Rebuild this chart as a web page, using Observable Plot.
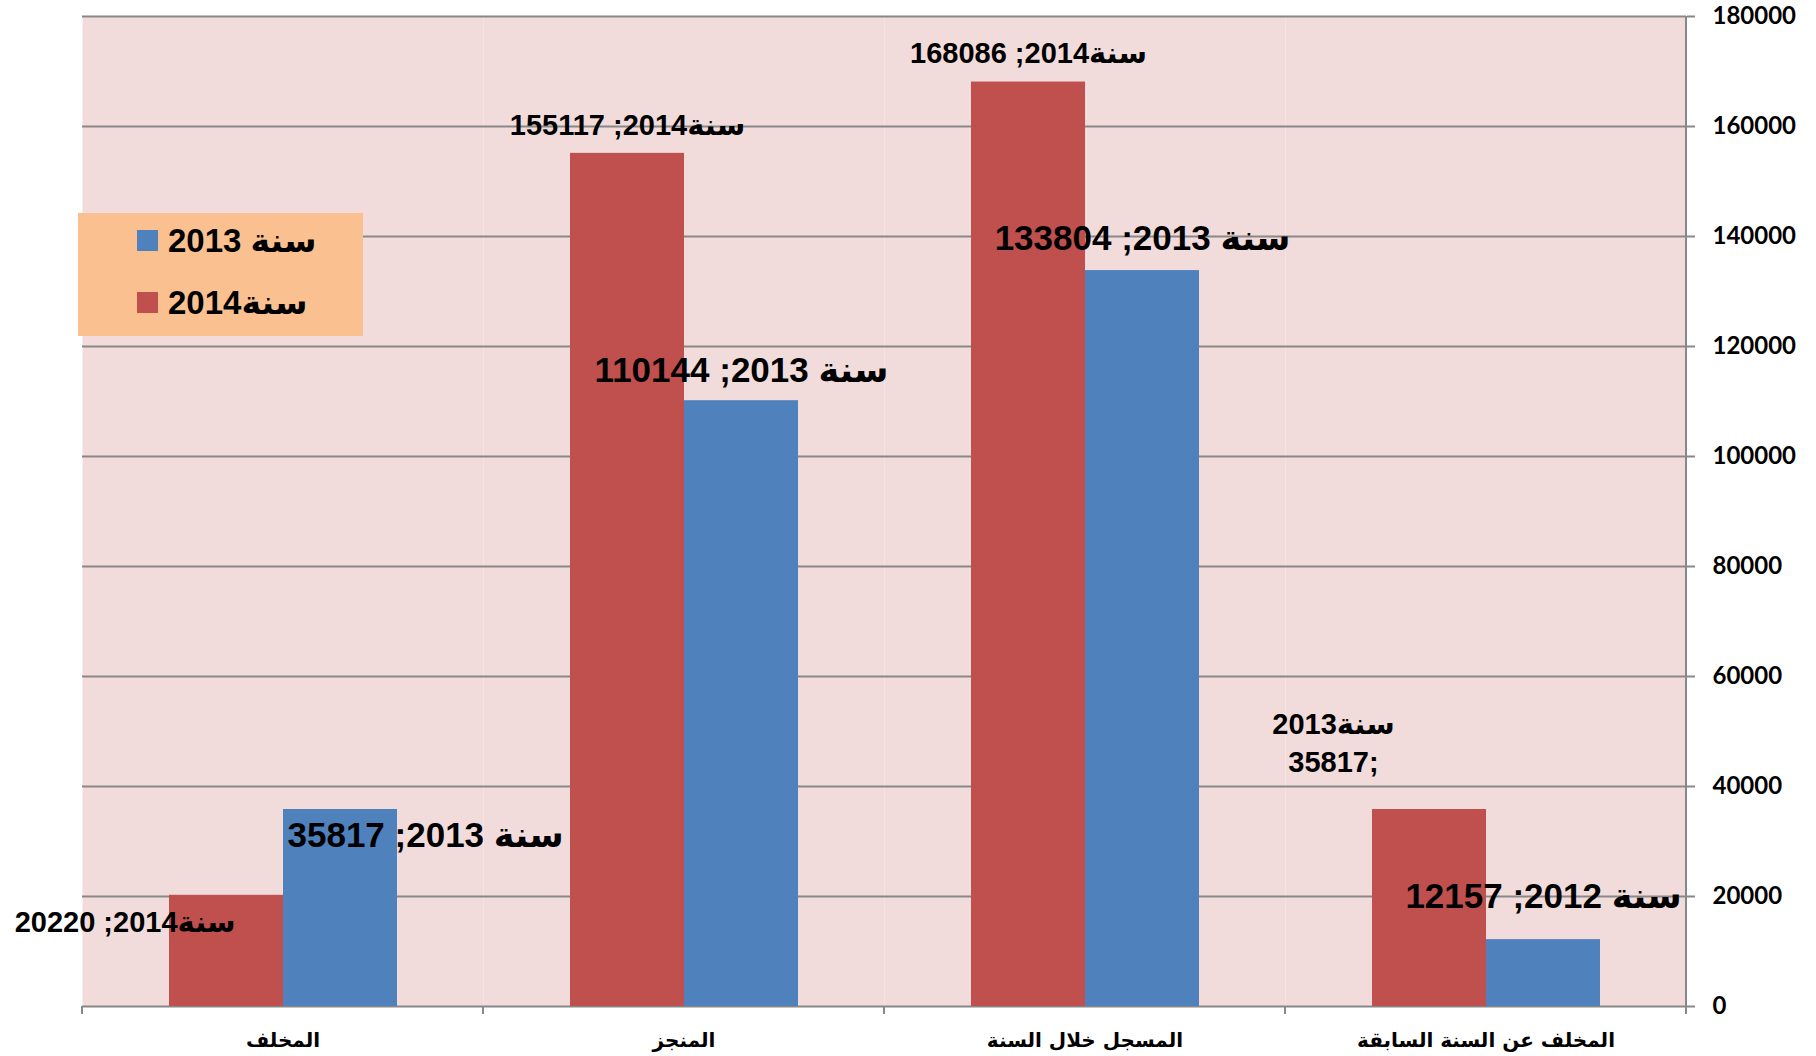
<!DOCTYPE html>
<html>
<head>
<meta charset="utf-8">
<script src="https://cdn.jsdelivr.net/npm/d3@7"></script>
<script src="https://cdn.jsdelivr.net/npm/@observablehq/plot@0.6"></script>
<style>
  body { margin: 0; background: #fff; }
  #wrap { position: relative; width: 1816px; height: 1056px; }
  #legend { position: absolute; left: 78px; top: 213px; width: 285px; height: 123px; background: #FAC090;
            font: bold 33px "Liberation Sans", "DejaVu Sans", sans-serif; color: #000; }
  #legend .item { position: absolute; left: 59px; display: flex; align-items: center; height: 33px; line-height: 33px; white-space: nowrap; }
  #legend .sw { width: 21px; height: 21px; margin-right: 10px; }
</style>
</head>
<body>
<div id="wrap"><div id="chart"></div><div id="legend"></div></div>
<script>
// ---- data ----
const categories = ["المخلف", "المنجز", "المسجل خلال السنة", "المخلف عن السنة السابقة"];
const series = ["2014", "2013"];
const seriesNames = { "2014": "سنة2014", "2013": "سنة 2013" };
const values2014 = [20220, 155117, 168086, 35817];
const values2013 = [35817, 110144, 133804, 12157];
const labels2014 = ["سنة2014; 20220", "سنة2014; 155117", "سنة2014; 168086", "سنة2013\n35817;"];
const labels2013 = ["سنة 2013; 35817", "سنة 2013; 110144", "سنة 2013; 133804", "سنة 2012; 12157"];
const yTicks = [0, 20000, 40000, 60000, 80000, 100000, 120000, 140000, 160000, 180000];

const colors = { "2014": "#C0504D", "2013": "#4F81BD" };

const bars = categories.flatMap((c, i) => [
  { cat: c, series: "2014", value: values2014[i], label: labels2014[i] },
  { cat: c, series: "2013", value: values2013[i], label: labels2013[i] }
]);

// label nudges (relative to top-centre of each bar)
const placements = [
  { cat: 0, series: "2014", textAnchor: "end", dx: 9, dy: 24 },
  { cat: 0, series: "2013", textAnchor: "start", dx: -53, dy: 23 },
  { cat: 1, series: "2014", dy: -31 },
  { cat: 1, series: "2013", dy: -34 },
  { cat: 2, series: "2014", dy: -31 },
  { cat: 2, series: "2013", dy: -35 },
  { cat: 3, series: "2014", dx: -96, dy: -69 },
  { cat: 3, series: "2013", dy: -46 }
];

const labelFont = '"Liberation Sans", "DejaVu Sans", sans-serif';
const labelMarks = placements.map(p => Plot.text(
  bars.filter(d => d.cat === categories[p.cat] && d.series === p.series),
  {
    fx: "cat", x: "series", y: "value", text: "label",
    textAnchor: p.textAnchor || "middle", lineAnchor: "middle",
    dx: p.dx || 0, dy: p.dy || 0,
    fontSize: p.series === "2014" ? 29 : 35, fontWeight: "bold",
    fontFamily: labelFont, fill: "#000", lineHeight: 1.32
  }
));

const chart = Plot.plot({
  width: 1816,
  height: 1056,
  marginTop: 16,
  marginBottom: 50,
  marginLeft: 81,
  marginRight: 130,
  style: { background: "#fff", overflow: "visible" },
  fx: { domain: categories, padding: 0, label: null },
  x: { domain: series, paddingInner: 0, paddingOuter: 0.75, axis: null },
  y: { domain: [0, 180000], label: null },
  color: { domain: series, range: series.map(s => colors[s]) },
  marks: [
    Plot.frame({ fill: "#F2DCDB", stroke: "none" }),
    Plot.gridY(yTicks, { stroke: "#888", strokeOpacity: 1, strokeWidth: 2 }),
    Plot.barY(bars, { fx: "cat", x: "series", y: "value", fill: "series" }),
    ...labelMarks,
    Plot.axisY(yTicks, { anchor: "right", tickSize: 8, tickPadding: 18, stroke: "#888", strokeWidth: 2,
      fontSize: 24, fontWeight: "bold", fontFamily: 'Lato, "Open Sans", sans-serif', fill: "#000",
      tickFormat: d => String(d), label: null }),
    Plot.axisFx({ anchor: "bottom", tickSize: 0, tickPadding: 26, fontSize: 20, fontWeight: "bold",
      fontFamily: '"DejaVu Sans", sans-serif', fill: "#000", label: null })
  ]
});
document.getElementById("chart").append(chart);

// axis lines and category boundary ticks, from the library's scales
const fxs = chart.scale("fx"), ys = chart.scale("y");
const y0 = ys.apply(0), yTop = ys.apply(180000);
const bounds = categories.map(c => fxs.apply(c)).concat([fxs.apply(categories[categories.length - 1]) + fxs.bandwidth]);
const g = d3.select(chart).append("g").attr("stroke", "#888").attr("stroke-width", 2);
g.selectAll("line.b").data(bounds).join("line")
  .attr("x1", d => d).attr("x2", d => d).attr("y1", y0).attr("y2", y0 + 8);
g.append("line").attr("x1", bounds[bounds.length - 1]).attr("x2", bounds[bounds.length - 1])
  .attr("y1", yTop).attr("y2", y0 + 8);

// legend
const legend = d3.select("#legend");
["2013", "2014"].forEach((s, i) => {
  const it = legend.append("div").attr("class", "item").style("top", (11 + i * 62) + "px");
  it.append("div").attr("class", "sw").style("background", colors[s]);
  it.append("span").text(seriesNames[s]);
});
</script>
</body>
</html>
